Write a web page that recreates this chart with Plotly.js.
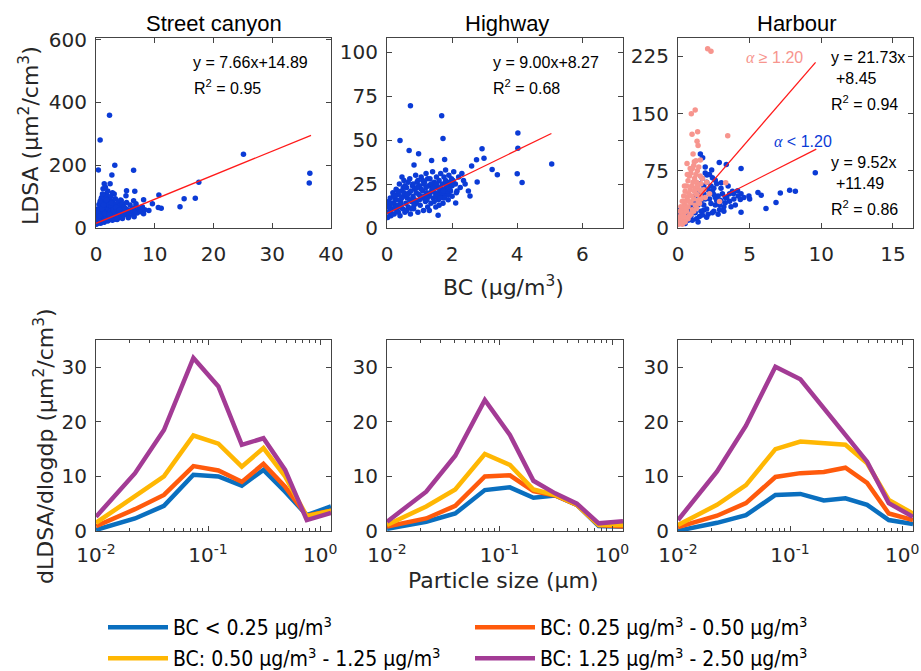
<!DOCTYPE html>
<html><head><meta charset="utf-8">
<script src="https://cdn.plot.ly/plotly-3.0.1.min.js"></script>
<style>html,body{margin:0;padding:0;background:#fff;} #chart{width:921px;height:671px;}</style>
</head><body><div id="chart"></div>
<script>
// ---------- Top row: LDSA vs BC scatter ----------
const streetX = [0.4,0.7,2.3,3.2,2.7,6.4,1.4,2.4,17.5,25.1,36.4,36.3,10.7,15.0,16.9,14.3,11.1,10.6,9.6,9.0,7.4,8.1,6.6,5.2,5.1,1.0,1.8,3.1,4.3,6.4,6.8,6.1,8.1,
 0.05,0.1,0.15,0.2,0.25,0.3,0.35,0.4,0.45,0.5,0.55,0.6,0.65,0.7,0.75,0.8,0.85,0.9,0.95,1.0,1.05,1.1,1.15,1.2,1.25,1.3,1.35,1.4,1.45,1.5,1.55,1.6,1.65,1.7,1.75,1.8,1.85,1.9,1.95,2.0,2.05,2.1,2.15,2.2,2.3,2.4,2.5,2.6,2.7,2.8,2.9,3.0,3.1,3.2,3.3,3.4,3.5,3.6,3.7,3.8,3.9,4.0,4.1,4.2,4.3,4.4,4.5,4.6,4.8,5.0,5.2,5.4,5.6,5.8,6.0,6.2,6.4,6.6,6.8,7.0,7.3,7.6,7.9,8.3,
 0.2,0.5,0.9,1.2,2.0,2.8,1.6,0.3,0.7,1.1,2.5,3.0,0.1,0.4,0.6,1.0,1.3,1.5,1.8,2.2,2.6,3.4,4.0,4.6,5.0,5.5,0.8,1.4,2.0,2.8,3.6,4.5,5.5,6.5];
const streetY = [185,280,359,200,169,184,141,141,146,235,174,143,105,93,95,68,63,65,77,56,59,90,117,119,103,98,110,108,87,87,77,53,45,
 12,18,26,14,32,21,40,16,47,27,35,55,22,42,62,29,49,36,72,20,57,43,31,82,64,25,49,37,92,71,28,56,41,102,66,33,51,79,45,88,24,61,38,73,96,53,30,69,46,86,58,35,76,50,93,28,63,42,81,55,33,71,48,89,60,38,76,52,66,42,81,58,36,73,50,63,41,56,71,48,61,52,67,58,
 60,75,95,125,118,112,130,48,85,108,100,55,35,28,38,62,74,45,88,42,80,66,58,44,62,48,15,18,22,25,27,30,33,36];
const streetFitX = [0, 36.6];
const streetFitY = [14.89, 295.25];

const highwayX = [0.72,1.68,1.72,0.40,0.68,0.97,2.92,2.98,4.02,4.02,5.06,4.0,4.15,3.39,3.23,2.75,2.77,2.55,2.5,2.6,1.77,1.37,0.83,0.46,2.11,1.57,1.77,
 0.02,0.05,0.08,0.1,0.12,0.15,0.18,0.2,0.22,0.25,0.28,0.3,0.32,0.35,0.38,0.4,0.42,0.45,0.48,0.5,0.52,0.55,0.58,0.6,0.62,0.65,0.68,0.7,0.72,0.75,0.78,0.8,0.82,0.85,0.88,0.9,0.92,0.95,0.98,1.0,1.02,1.05,1.08,1.1,1.12,1.15,1.18,1.2,1.22,1.25,1.28,1.3,1.32,1.35,1.38,1.4,1.42,1.45,1.48,1.5,1.52,1.55,1.58,1.6,1.62,1.65,1.68,1.7,1.72,1.75,1.78,1.8,1.82,1.85,1.88,1.9,1.92,1.95,1.98,2.0,2.05,2.1,2.15,2.2,2.25,2.3,2.35,2.4,
 0.1,0.2,0.3,0.4,0.5,0.6,0.7,0.8,0.9,1.0,1.1,1.2,1.3,1.4,1.5,1.6,1.7,1.8,1.9,2.0,
 0.05,0.15,0.25,0.35,0.45,0.55,0.65,0.75,0.85,0.95,1.05,1.15,1.25,1.35,1.45,1.55,1.65,1.75,1.85,1.95,
 0.03,0.13,0.23,0.33,0.43,0.53,0.63,0.73,0.83,0.93,1.03,1.13,1.23,1.33,1.43,1.53,1.63,1.73,1.83,1.93,2.03,2.13];
const highwayY = [69.5,63.8,50.9,49.8,44.1,42.2,45.1,39.6,54,45.3,36.4,30.9,25.8,30.3,33.3,38.8,26.1,18.2,21,35.2,39,38.3,35.8,29,14.2,7.2,17.6,
 6,9,13,17,7,11,20,14,8,16,22,10,13,19,25,7,15,21,11,18,27,9,14,23,17,12,20,28,8,15,24,18,11,22,30,14,26,9,19,24,13,29,17,21,10,26,15,31,20,12,24,18,28,14,22,32,17,26,20,12,29,23,16,27,21,31,18,25,14,29,22,33,19,26,16,30,24,21,28,18,32,25,21,29,23,31,27,25,
 10,19,16,12,23,10,16,25,20,16,27,23,10,25,18,13,20,27,19,24,
 15,8,12,9,17,24,26,11,16,27,22,18,28,25,15,19,23,17,21,26,
 12,14,18,21,13,20,19,21,13,23,18,25,16,20,23,25,17,21,24,22,27,20];
const highwayFitX = [0, 5.05];
const highwayFitY = [8.27, 53.72];

const harbourLowX = [1.56,1.72,2.88,3.37,4.4,9.58,2.35,2.02,2.6,3.02,4.16,5.58,5.81,6.14,6.84,7.14,7.79,8.19,4.95,4.4,4.35,3.88,2.95,1.79,0.86,
 0.2,0.4,0.6,0.8,0.5,1.0,1.2,1.4,1.6,1.8,1.5,2.0,2.2,2.4,2.0,2.6,2.8,3.0,3.2,3.4,3.6,3.8,4.0,4.2,1.1,1.3,1.7,1.9,2.1,2.3,2.5,2.7,2.9,3.1,3.3,3.5,3.7,3.9,1.0,1.2,1.5,1.8,2.2,2.6,3.0,1.6,1.9,2.4,0.7,0.9,1.3,1.7,2.0,2.4,2.8,3.2,4.4,4.6,5.0,1.4,0.05,0.1,
 1.6,1.8,2.1,2.3,2.5,2.7,2.9,3.3,3.6,1.9,2.2,2.5];
const harbourLowY = [97,92,86,83.3,78,72.4,76,69.3,62.7,59.2,48.7,46.5,43,25.4,33.3,46,49.6,48.2,42,20.6,37.3,45.2,36.4,23.2,12.3,
 8,12,18,25,6,10,20,30,45,55,15,25,38,48,60,30,42,52,28,40,35,48,30,42,35,50,65,38,18,55,22,58,24,45,33,55,28,38,28,42,58,30,45,40,35,22,72,66,10,15,12,17,14,20,18,22,45,40,38,8,23,18,
 35,45,50,32,44,36,30,40,45,80,70,52];
const harbourHighX = [2.07,2.3,1.2,0.93,0.98,1.37,3.47,1.33,1.4,1.05,0.63,1.14,1.56,3.33,2.9,
 0.05,0.1,0.15,0.2,0.25,0.3,0.35,0.4,0.45,0.5,0.55,0.6,0.65,0.7,0.75,0.8,0.85,0.9,0.95,1.0,1.05,1.1,1.15,1.2,1.25,1.3,1.35,1.4,1.45,1.5,1.55,1.6,1.65,1.7,
 0.2,0.3,0.4,0.5,0.6,0.7,0.8,0.9,1.0,1.1,1.2,1.3,0.3,0.5,0.7,0.9,1.1,1.3,1.5,0.15,0.35,0.55,0.75,0.95,1.15,1.35,1.55,0.45,0.65,0.85,1.25,1.6,1.8,2.0,2.2,1.9];
const harbourHighY = [235,231.6,154.8,149.6,122.8,126.3,121,113.6,108,97,84.6,86.8,89,59.2,34.6,
 5,10,15,8,20,12,25,18,30,14,35,22,40,28,45,16,50,33,55,24,60,38,65,30,70,44,75,36,80,50,42,58,48,65,
 28,35,42,48,55,62,68,72,78,82,52,60,5,8,12,18,22,26,32,22,15,26,35,42,48,55,68,55,70,78,88,38,50,60,45,40];
const harbourHighFitX = [1.5, 9.6];
const harbourHighFitY = [41.05, 217.06];
const harbourLowFitX = [3.1, 9.65];
const harbourLowFitY = [41.0, 103.36];

// ---------- Bottom row: size distributions ----------
const particleSize = [0.01, 0.0223, 0.0404, 0.074, 0.1236, 0.200, 0.312, 0.487, 0.760, 1.25];
const seriesNames = ['BC &lt; 0.25 μg/m<sup>3</sup>', 'BC: 0.25 μg/m<sup>3</sup> - 0.50 μg/m<sup>3</sup>',
                     'BC: 0.50 μg/m<sup>3</sup> - 1.25 μg/m<sup>3</sup>', 'BC: 1.25 μg/m<sup>3</sup> - 2.50 μg/m<sup>3</sup>'];
const seriesColors = ['#0a6fbf', '#ff5a0c', '#ffb703', '#a33b95'];
const streetDist = [
  [0.2, 2.3, 4.6, 10.3, 10.0, 8.3, 11.2, 7.2, 2.9, 4.5],
  [0.9, 4.0, 6.6, 11.9, 11.1, 9.0, 12.3, 8.1, 2.8, 3.7],
  [1.5, 6.3, 10.0, 17.5, 16.0, 11.8, 15.2, 10.0, 2.7, 3.7],
  [2.6, 10.6, 18.5, 31.7, 26.5, 15.8, 17.0, 11.2, 2.0, 3.3]];
const highwayDist = [
  [0.4, 1.7, 3.2, 7.5, 8.0, 6.1, 6.5, 4.8, 0.9, 0.8],
  [0.8, 2.3, 4.6, 10.0, 10.2, 7.3, 6.5, 4.8, 1.1, 0.8],
  [1.1, 4.5, 7.6, 14.1, 12.1, 7.6, 6.6, 4.8, 1.1, 1.1],
  [1.7, 7.2, 13.8, 24.0, 17.6, 9.2, 6.9, 5.0, 1.4, 1.8]];
const harbourDist = [
  [0.05, 1.5, 2.9, 6.6, 6.8, 5.6, 6.0, 4.8, 2.0, 1.3],
  [0.7, 2.8, 5.1, 9.9, 10.6, 10.8, 11.6, 8.8, 3.2, 2.0],
  [1.1, 4.8, 8.4, 15.0, 16.4, 16.0, 15.8, 12.4, 5.7, 3.2],
  [2.0, 10.9, 19.3, 30.1, 27.8, 22.5, 17.9, 12.7, 5.1, 2.6]];

const panelTitles = ['Street canyon', 'Highway', 'Harbour'];

// ---------- Build ----------
const W = 921, H = 671;
const px = v => v / W, py = v => 1 - v / H;
const scatBlue = '#0b3bd6', scatPink = '#f7958e', fitRed = '#ff1a1a';

const traces = [];
function scat(x, y, xa, ya, c) {
  traces.push({type:'scatter', mode:'markers', x:x, y:y, xaxis:xa, yaxis:ya, showlegend:false,
    marker:{color:c, size:5.5, line:{width:0}}, hoverinfo:'skip'});
}
function fit(x, y, xa, ya) {
  traces.push({type:'scatter', mode:'lines', x:x, y:y, xaxis:xa, yaxis:ya, showlegend:false,
    line:{color:fitRed, width:1.3}, hoverinfo:'skip'});
}
scat(streetX, streetY, 'x', 'y', scatBlue); fit(streetFitX, streetFitY, 'x', 'y');
scat(highwayX, highwayY, 'x2', 'y2', scatBlue); fit(highwayFitX, highwayFitY, 'x2', 'y2');
scat(harbourLowX, harbourLowY, 'x3', 'y3', scatBlue);
scat(harbourHighX, harbourHighY, 'x3', 'y3', scatPink);
fit(harbourHighFitX, harbourHighFitY, 'x3', 'y3');
fit(harbourLowFitX, harbourLowFitY, 'x3', 'y3');

[[streetDist,'x4','y4'],[highwayDist,'x5','y5'],[harbourDist,'x6','y6']].forEach((p, pi) => {
  p[0].forEach((vals, i) => {
    traces.push({type:'scatter', mode:'lines', x:particleSize, y:vals, xaxis:p[1], yaxis:p[2],
      name:seriesNames[i], legendgroup:'g'+i, showlegend: pi === 0, legend: i < 2 ? 'legend' : 'legend2',
      line:{color:seriesColors[i], width:4.5}, hoverinfo:'skip'});
  });
});

const tickFont = {family:'DejaVu Sans', size:20, color:'#262626'};
const base = {showline:true, mirror:'ticks', linecolor:'#444', linewidth:1, ticks:'inside', ticklen:5,
  tickcolor:'#444', tickwidth:1, showgrid:false, zeroline:false, tickfont:tickFont, fixedrange:true};
const colDom = [[96, 331], [387, 623], [678, 913]];
const topDom = [py(228), py(38)], botDom = [py(531), py(340)];
const legendBase = {orientation:'h', x:px(103), xanchor:'left', yanchor:'top', entrywidth:292, entrywidthmode:'pixels',
    itemwidth:60, font:{family:'DejaVu Sans Condensed, Liberation Sans Narrow, DejaVu Sans', size:21, color:'#000'},
    bgcolor:'rgba(0,0,0,0)', itemclick:false, itemdoubleclick:false};
const layout = {width:W, height:H, margin:{l:0, r:0, t:0, b:0, autoexpand:false}, paper_bgcolor:'#fff', plot_bgcolor:'#fff',
  showlegend:true, font:{family:'DejaVu Sans', color:'#262626'},
  legend: Object.assign({}, legendBase, {y:py(607)}),
  legend2: Object.assign({}, legendBase, {y:py(638)})
};
const topX = [{range:[0,40], dtick:10}, {range:[0,7.25], dtick:2}, {range:[0,16.4], dtick:5}];
const topY = [{range:[0,605], dtick:200}, {range:[0,108], dtick:25}, {range:[0,249], dtick:75}];
const minorVals = [0.02,0.03,0.04,0.05,0.06,0.07,0.08,0.09,0.2,0.3,0.4,0.5,0.6,0.7,0.8,0.9];
for (let i = 0; i < 3; i++) {
  const n = i + 1, m = i + 4;
  const xn = n === 1 ? '' : n;
  layout['xaxis' + xn] = Object.assign({}, base, topX[i], {domain:[px(colDom[i][0]), px(colDom[i][1])], anchor:'y' + xn, ticklabelstandoff:8});
  layout['yaxis' + xn] = Object.assign({}, base, topY[i], {domain:topDom, anchor:'x' + xn, ticklabelstandoff:4});
  layout['xaxis' + m] = Object.assign({}, base, {type:'log', range:[-2, Math.log10(1.25)], domain:[px(colDom[i][0]), px(colDom[i][1])],
    anchor:'y' + m, tickmode:'array', tickvals:[0.01,0.1,1], ticktext:['10<sup>-2</sup>','10<sup>-1</sup>','10<sup>0</sup>'],
    ticklabelstandoff:6, minor:{tickmode:'array', tickvals:minorVals, ticks:'inside', ticklen:3, tickcolor:'#444'}});
  layout['yaxis' + m] = Object.assign({}, base, {range:[0,35], dtick:10, domain:botDom, anchor:'x' + m, ticklabelstandoff:4});
}

const ann = [];
function A(text, x, y, opts) {
  ann.push(Object.assign({text:text, x:px(x), y:py(y), xref:'paper', yref:'paper', showarrow:false,
    xanchor:'left', yanchor:'middle', font:{family:'Liberation Sans', size:16, color:'#000'}}, opts || {}));
}
const titleX = [214, 507, 796];
panelTitles.forEach((t, i) => A(t, titleX[i], 24, {xanchor:'center', font:{family:'Liberation Sans', size:22, color:'#000'}}));
A('y = 7.66x+14.89', 191, 62); A('R<sup>2</sup> = 0.95', 192, 87);
A('y = 9.00x+8.27', 491, 62); A('R<sup>2</sup> = 0.68', 491, 87);
A('<span style="font-family:Liberation Serif"><i>α</i></span> ≥ 1.20', 744, 57, {font:{family:'Liberation Sans', size:16, color:scatPink}});
A('y = 21.73x', 829, 57); A('+8.45', 834, 79); A('R<sup>2</sup> = 0.94', 829, 103);
A('<span style="font-family:Liberation Serif"><i>α</i></span> &lt; 1.20', 772, 142, {font:{family:'Liberation Sans', size:16, color:scatBlue}});
A('y = 9.52x', 829, 162); A('+11.49', 834, 183); A('R<sup>2</sup> = 0.86', 829, 208);
const axFont = {family:'DejaVu Sans', size:22, color:'#262626'};
A('LDSA (μm<sup>2</sup>/cm<sup>3</sup>)', 29, 136, {xanchor:'center', textangle:-90, font:axFont});
A('BC (μg/m<sup>3</sup>)', 503, 286, {xanchor:'center', font:axFont});
A('dLDSA/dlogdp (μm<sup>2</sup>/cm<sup>3</sup>)', 44, 446, {xanchor:'center', textangle:-90, font:axFont});
A('Particle size (μm)', 503, 580, {xanchor:'center', font:axFont});
layout.annotations = ann;

Plotly.newPlot('chart', traces, layout, {displayModeBar:false, staticPlot:true});
</script></body></html>
